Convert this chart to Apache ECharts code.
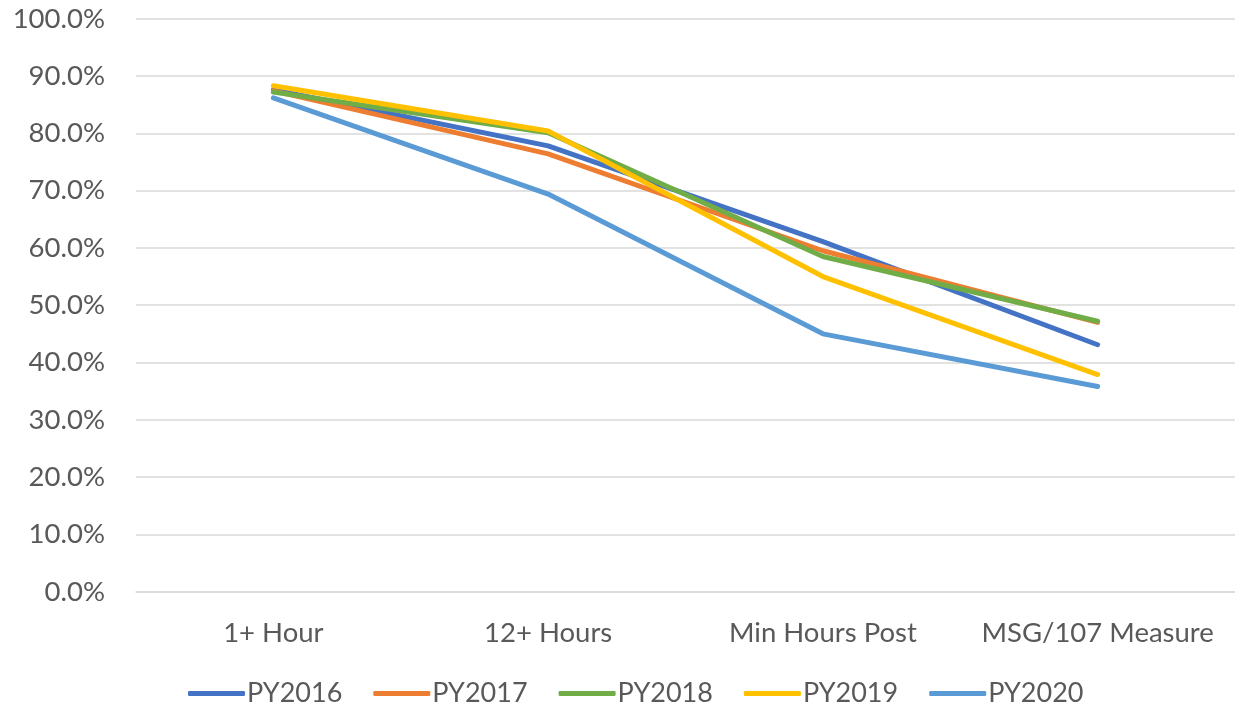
<!DOCTYPE html>
<html>
<head>
<meta charset="utf-8">
<script src="https://cdn.jsdelivr.net/npm/echarts@6/dist/echarts.min.js"></script>
<style>
  html, body { margin: 0; padding: 0; background: #fff; }
  #chart { width: 1235px; height: 709px; }
</style>
</head>
<body>
<div id="chart"></div>
<script>
// categories and series values (percent)
const categories = ["1+ Hour", "12+ Hours", "Min Hours Post", "MSG/107 Measure"];
const py2016 = [87.6, 77.8, 61.1, 43.1];
const py2017 = [87.4, 76.4, 59.5, 47.0];
const py2018 = [87.2, 80.1, 58.5, 47.2];
const py2019 = [88.3, 80.4, 55.0, 37.9];
const py2020 = [86.2, 69.4, 45.0, 35.8];

const seriesNames = ["PY2016", "PY2017", "PY2018", "PY2019", "PY2020"];
const seriesData = [py2016, py2017, py2018, py2019, py2020];
const colors = ["#4472C4", "#ED7D31", "#70AD47", "#FFC000", "#5B9BD5"];

const font = "Lato, 'Open Sans', sans-serif";
const textColor = "#595959";

let myChart = echarts.init(document.getElementById("chart"));

let option = {
  animation: false,
  color: colors,
  grid: {
    left: 136,
    top: 18.7,
    width: 1108,
    height: 573
  },
  legend: {
    bottom: -3,
    left: 183,
    icon: "roundRect",
    itemWidth: 57,
    itemHeight: 5,
    itemGap: 31,
    textStyle: { fontFamily: font, fontSize: 27, color: textColor, padding: [0, 0, 0, -3] },
    data: seriesNames
  },
  xAxis: {
    type: "category",
    data: categories,
    boundaryGap: true,
    axisLine: { show: true, lineStyle: { color: "#D9D9D9", width: 1.5 } },
    axisTick: { show: false },
    axisLabel: { interval: 0, fontFamily: font, fontSize: 27.5, color: textColor, margin: 27 }
  },
  yAxis: {
    type: "value",
    min: 0,
    max: 100,
    interval: 10,
    axisLine: { show: false },
    axisTick: { show: false },
    splitLine: { lineStyle: { color: "#D9D9D9", width: 1.5 } },
    axisLabel: {
      fontFamily: font,
      fontSize: 27.5,
      color: textColor,
      margin: 31,
      formatter: v => v.toFixed(1) + "%"
    }
  },
  series: seriesNames.map((name, i) => ({
    name: name,
    type: "line",
    data: seriesData[i],
    symbol: "none",
    lineStyle: { width: 5, cap: "round", join: "round" }
  }))
};

option && myChart.setOption(option);
</script>
</body>
</html>
